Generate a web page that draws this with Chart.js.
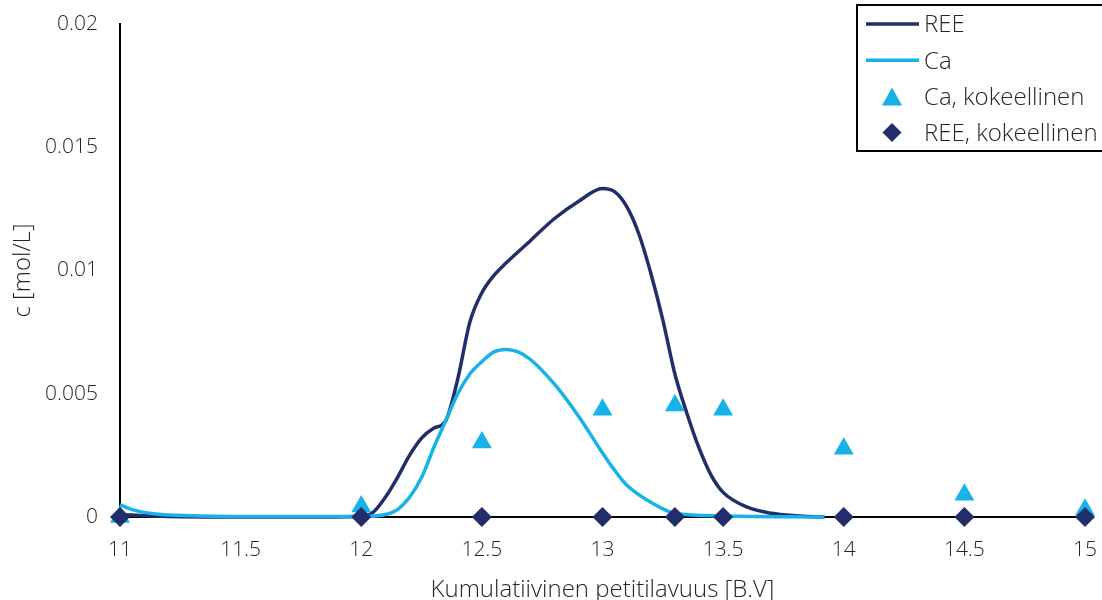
<!DOCTYPE html>
<html>
<head>
<meta charset="utf-8">
<script src="https://cdn.jsdelivr.net/npm/chart.js@4.4.1/dist/chart.umd.min.js"></script>
<style>
  html, body { margin: 0; padding: 0; background: #fff; }
  #wrap { width: 1102px; height: 600px; }
</style>
</head>
<body>
<div id="wrap"><canvas id="chart"></canvas></div>
<script>
// Model curves (x = cumulative bed volumes, y = mol/L)
const reeLineX = [11, 11.2, 11.5, 11.8, 12, 12.05, 12.1, 12.15, 12.2, 12.25, 12.3, 12.35, 12.4, 12.45, 12.5, 12.55, 12.6, 12.7, 12.8, 12.9, 13, 13.05, 13.1, 13.15, 13.2, 13.25, 13.3, 13.35, 13.4, 13.45, 13.5, 13.6, 13.7, 13.8, 13.92];
const reeLineY = [0.0001, 0.00002, 0, 0, 0.00003, 0.0002, 0.0008, 0.0016, 0.0025, 0.0032, 0.0036, 0.0039, 0.0056, 0.0079, 0.0091, 0.0098, 0.0103, 0.0112, 0.0121, 0.0128, 0.01333, 0.0132, 0.0126, 0.0115, 0.0099, 0.008, 0.0058, 0.0042, 0.0028, 0.0017, 0.001, 0.0004, 0.00015, 0.00005, 0];

const caLineX = [11, 11.05, 11.15, 11.3, 11.6, 12, 12.1, 12.15, 12.2, 12.25, 12.3, 12.35, 12.4, 12.45, 12.5, 12.55, 12.6, 12.65, 12.7, 12.8, 12.9, 13, 13.05, 13.1, 13.2, 13.3, 13.5, 13.92];
const caLineY = [0.0005, 0.0003, 0.00012, 0.00005, 0.00002, 0.00002, 0.0001, 0.0003, 0.0008, 0.0016, 0.0028, 0.0039, 0.005, 0.0058, 0.0063, 0.0067, 0.0068, 0.0067, 0.0064, 0.0054, 0.0041, 0.0026, 0.0019, 0.0013, 0.0006, 0.00015, 0.00004, 0];

// Experimental points
const expX = [11, 12, 12.5, 13, 13.3, 13.5, 14, 14.5, 15];
const caExpY = [0, 0.00043, 0.00302, 0.00435, 0.00452, 0.00435, 0.00277, 0.0009, 0.00029];
const reeExpY = [0, 0, 0, 0, 0, 0, 0, 0, 0];

const seriesNames = ["REE", "Ca", "Ca, kokeellinen", "REE, kokeellinen"];
const xTickLabels = ["11", "11.5", "12", "12.5", "13", "13.5", "14", "14.5", "15"];
const yTickLabels = ["0", "0.005", "0.01", "0.015", "0.02"];
const xTitle = "Kumulatiivinen petitilavuus [B.V]";
const yTitle = "c [mol/L]";

const REE_COLOR = "#222e6b";
const CA_COLOR = "#16b2e8";
const TEXT_COLOR = "#262626";
const FONT = "'Open Sans', 'Noto Sans', sans-serif";

const toPoints = (xs, ys) => xs.map((x, i) => ({ x, y: ys[i] }));

// Legend drawn as a framed box in the top right corner, like the original
const boxLegend = {
  id: "boxLegend",
  afterDraw(chart) {
    const ctx = chart.ctx;
    const ds = chart.data.datasets;
    ctx.save();
    ctx.fillStyle = "#fff";
    ctx.fillRect(857, 5, 260, 146);
    ctx.strokeStyle = "#000";
    ctx.lineWidth = 2;
    ctx.strokeRect(857, 5, 260, 146);
    ctx.font = "300 24px " + FONT;
    ctx.textBaseline = "middle";
    ds.forEach((d, row) => {
      const y = 24 + row * 36.2;
      if (d.showLine) {
        ctx.strokeStyle = d.borderColor;
        ctx.lineWidth = 3.5;
        ctx.beginPath();
        ctx.moveTo(866, y);
        ctx.lineTo(919, y);
        ctx.stroke();
      } else {
        ctx.fillStyle = d.pointBackgroundColor;
        ctx.beginPath();
        if (d.pointStyle === "triangle") {
          ctx.moveTo(892, y - 9);
          ctx.lineTo(902, y + 9);
          ctx.lineTo(882, y + 9);
        } else {
          ctx.moveTo(892, y - 9.5);
          ctx.lineTo(901.5, y);
          ctx.lineTo(892, y + 9.5);
          ctx.lineTo(882.5, y);
        }
        ctx.closePath();
        ctx.fill();
      }
      ctx.fillStyle = TEXT_COLOR;
      ctx.fillText(d.label, 924, y + 1.5);
    });
    ctx.restore();
  }
};

document.addEventListener("DOMContentLoaded", () => {
  const ctx = document.getElementById("chart").getContext("2d");
  new Chart(ctx, {
    type: "scatter",
    data: {
      datasets: [
        {
          label: seriesNames[0],
          data: toPoints(reeLineX, reeLineY),
          showLine: true,
          borderColor: REE_COLOR,
          borderWidth: 3.5,
          pointRadius: 0,
          cubicInterpolationMode: "monotone",
          clip: false,
          order: 4,
        },
        {
          label: seriesNames[1],
          data: toPoints(caLineX, caLineY),
          showLine: true,
          borderColor: CA_COLOR,
          borderWidth: 3.5,
          pointRadius: 0,
          cubicInterpolationMode: "monotone",
          clip: false,
          order: 3,
        },
        {
          label: seriesNames[2],
          data: toPoints(expX, caExpY),
          showLine: false,
          pointStyle: "triangle",
          pointRadius: 11.5,
          pointBackgroundColor: CA_COLOR,
          pointBorderWidth: 0,
          clip: false,
          order: 2,
        },
        {
          label: seriesNames[3],
          data: toPoints(expX, reeExpY),
          showLine: false,
          pointStyle: "rectRot",
          pointRadius: 10,
          pointBackgroundColor: REE_COLOR,
          pointBorderWidth: 0,
          clip: false,
          order: 1,
        },
      ],
    },
    options: {
      responsive: true,
      maintainAspectRatio: false,
      animation: false,
      layout: { padding: { left: 0, right: 17, top: 24, bottom: 0 } },
      plugins: {
        legend: { display: false },
        tooltip: { enabled: false },
      },
      scales: {
        x: {
          type: "linear",
          min: 11,
          max: 15,
          afterFit: (s) => {
            s.height = 83;
            s.paddingLeft = 0;
            s.paddingRight = 0;
          },
          grid: { display: false, drawTicks: false },
          border: { display: true, color: "#000", width: 2 },
          ticks: {
            stepSize: 0.5,
            padding: 20,
            color: TEXT_COLOR,
            font: { family: FONT, size: 21, weight: 300 },
            callback: (v, i) => xTickLabels[i],
          },
          title: {
            display: true,
            text: xTitle,
            color: TEXT_COLOR,
            font: { family: FONT, size: 24, weight: 300, lineHeight: 1 },
            padding: { top: 0, bottom: -2 },
          },
        },
        y: {
          min: 0,
          max: 0.02,
          afterFit: (s) => {
            s.width = 120;
            s.paddingTop = 0;
            s.paddingBottom = 0;
          },
          grid: { display: false, drawTicks: false },
          border: { display: true, color: "#000", width: 2 },
          ticks: {
            stepSize: 0.005,
            padding: 22,
            color: TEXT_COLOR,
            font: { family: FONT, size: 21, weight: 300 },
            callback: (v, i) => yTickLabels[i],
          },
          title: {
            display: true,
            text: yTitle,
            color: TEXT_COLOR,
            font: { family: FONT, size: 24, weight: 300, lineHeight: 1 },
            padding: { top: 11, bottom: 0 },
          },
        },
      },
    },
    plugins: [boxLegend],
  });
});
</script>
</body>
</html>
